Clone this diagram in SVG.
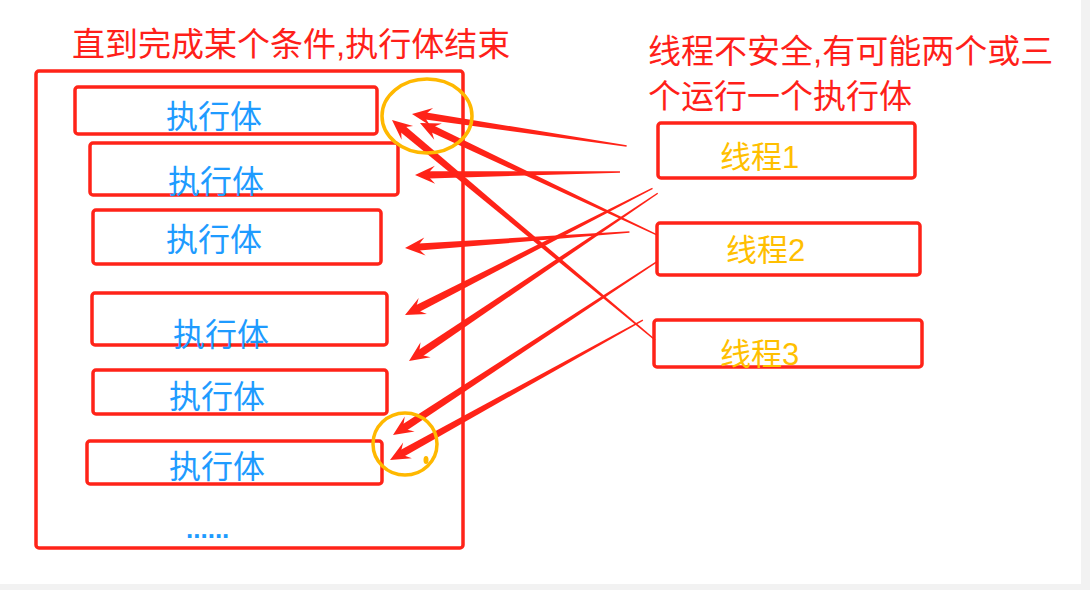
<svg xmlns="http://www.w3.org/2000/svg" xmlns:xlink="http://www.w3.org/1999/xlink" width="1090" height="590" viewBox="0 0 1090 590">
<style>
.box{fill:none;stroke:#ff2318;stroke-width:3.5}
.t{font-family:'Liberation Sans','Noto Sans CJK SC',sans-serif}
.red{fill:#ff1f1a;font-size:33px}
.blue{fill:#1e9bff;font-size:32px}
.gold{fill:#ffbf00;font-size:31px}
.arr{fill:#ff2318}
.ring{fill:none;stroke:#ffb800;stroke-width:3.5}
</style>
<defs>
<polygon id="ah" points="0,0 20,-9 15,-3.5 15,3.5 20,9"/>
</defs>
<rect x="0" y="0" width="1090" height="590" fill="#f2f2f2"/>
<rect x="0" y="0" width="1081" height="584" fill="#ffffff"/>

<g id="title-left"><text class="t red" x="72" y="56">直到完成某个条件,执行体结束</text></g>
<g id="title-right">
<text class="t red" x="648" y="63">线程不安全,有可能两个或三</text>
<text class="t red" x="648" y="108">个运行一个执行体</text>
</g>

<g id="container"><rect class="box" x="36" y="71" width="427" height="477" rx="3"/></g>
<g id="exec1"><rect class="box" x="75" y="87" width="302" height="47" rx="3"/><text class="t blue" x="214" y="128" text-anchor="middle">执行体</text></g>
<g id="exec2"><rect class="box" x="90" y="143" width="308" height="52" rx="3"/><text class="t blue" x="216" y="193" text-anchor="middle">执行体</text></g>
<g id="exec3"><rect class="box" x="93" y="210" width="288" height="54" rx="3"/><text class="t blue" x="214" y="251" text-anchor="middle">执行体</text></g>
<g id="exec4"><rect class="box" x="92" y="293" width="295" height="52" rx="3"/><text class="t blue" x="221" y="346" text-anchor="middle">执行体</text></g>
<g id="exec5"><rect class="box" x="93" y="370" width="294" height="44" rx="3"/><text class="t blue" x="217" y="408" text-anchor="middle">执行体</text></g>
<g id="exec6"><rect class="box" x="87" y="441" width="295" height="43" rx="3"/><text class="t blue" x="217" y="478" text-anchor="middle">执行体</text></g>
<g id="ellipsis"><text class="t" x="186" y="538" fill="#1e9bff" font-size="26" font-weight="bold">......</text></g>

<g id="thread1"><rect class="box" x="658" y="123" width="257" height="55" rx="3"/><text class="t gold" x="720" y="168">线程1</text></g>
<g id="thread2"><rect class="box" x="657" y="223" width="263" height="52" rx="3"/><text class="t gold" x="726" y="261">线程2</text></g>
<g id="thread3"><rect class="box" x="654" y="320" width="268" height="47" rx="3"/><text class="t gold" x="720" y="365">线程3</text></g>

<g id="connectors" class="arr">
<g transform="translate(412,114) rotate(8.47)"><use xlink:href="#ah"/><polygon points="14,-3.6 217,-0.7 217,0.7 14,3.6"/></g>
<g transform="translate(415,175) rotate(-0.84)"><use xlink:href="#ah"/><polygon points="14,-3.6 205,-0.7 205,0.7 14,3.6"/></g>
<g transform="translate(420,123) rotate(25.3)"><use xlink:href="#ah"/><polygon points="14,-3.6 262,-0.7 262,0.7 14,3.6"/></g>
<g transform="translate(392,120) rotate(39.9)"><use xlink:href="#ah"/><polygon points="14,-3.8 343,-0.7 343,0.7 14,3.8"/></g>
<g transform="translate(405,248) rotate(-4.07)"><use xlink:href="#ah"/><polygon points="14,-3.6 225,-0.7 225,0.7 14,3.6"/></g>
<g transform="translate(405,315) rotate(-27.1)"><use xlink:href="#ah"/><polygon points="14,-3.8 278,-0.7 278,0.7 14,3.8"/></g>
<g transform="translate(409,361) rotate(-34.0)"><use xlink:href="#ah"/><polygon points="14,-3.8 300,-0.7 300,0.7 14,3.8"/></g>
<g transform="translate(393,435) rotate(-33.3)"><use xlink:href="#ah"/><polygon points="14,-3.8 315,-0.7 315,0.7 14,3.8"/></g>
<g transform="translate(390,460) rotate(-28.96)"><use xlink:href="#ah"/><polygon points="14,-3.8 289,-0.7 289,0.7 14,3.8"/></g>
</g>

<g id="highlight-top"><ellipse class="ring" cx="427" cy="116" rx="45" ry="37"/></g>
<g id="highlight-bottom"><ellipse class="ring" cx="405" cy="444" rx="32" ry="31"/><ellipse cx="426" cy="460" rx="2.5" ry="4" fill="#ffb800"/></g>
</svg>
